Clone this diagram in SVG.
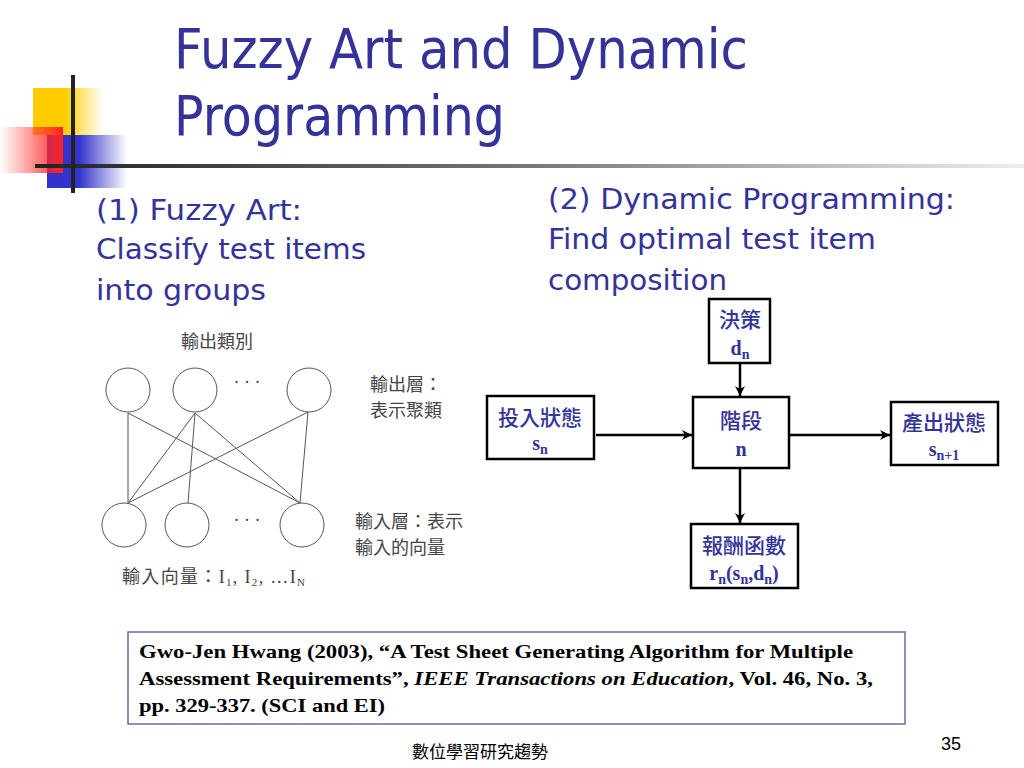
<svg xmlns="http://www.w3.org/2000/svg" width="1024" height="768" viewBox="0 0 1024 768">
<defs>
<linearGradient id="gy" x1="0" y1="0" x2="1" y2="0"><stop offset="0" stop-color="#ffcc00"/><stop offset="0.45" stop-color="#ffcc00"/><stop offset="1" stop-color="#ffcc00" stop-opacity="0"/></linearGradient>
<linearGradient id="gr" x1="0" y1="0" x2="1" y2="0"><stop offset="0" stop-color="#ff3333" stop-opacity="0"/><stop offset="1" stop-color="#ff2222"/></linearGradient>
<linearGradient id="gb" x1="0" y1="0" x2="1" y2="0"><stop offset="0" stop-color="#3333cc"/><stop offset="0.4" stop-color="#3333cc"/><stop offset="1" stop-color="#3333cc" stop-opacity="0"/></linearGradient>
<linearGradient id="gl" x1="0" y1="0" x2="1" y2="0"><stop offset="0" stop-color="#222"/><stop offset="0.5" stop-color="#777"/><stop offset="1" stop-color="#eee"/></linearGradient>
<marker id="arr" viewBox="0 0 10 10" refX="10" refY="5" markerWidth="10" markerHeight="10" markerUnits="userSpaceOnUse" orient="auto"><path d="M0,0 L10,5 L0,10 L3,5 Z" fill="#000"/></marker>
<style>
.t{font-family:"DejaVu Sans","Liberation Sans",sans-serif;fill:#333399}
.cj{font-family:"Liberation Serif","Noto Sans CJK TC",serif;fill:#444;font-size:18px}
.bx{fill:#fff;stroke:#000;stroke-width:2.5}
.bt{font-family:"Liberation Serif","Noto Sans CJK TC",serif;fill:#333399;font-size:20px;font-weight:bold;text-anchor:middle}
.bc{font-family:"Noto Sans CJK TC",sans-serif;fill:#333399;font-size:21px;font-weight:500;text-anchor:middle}
.nd{fill:#fff;stroke:#555;stroke-width:1}
.ln{stroke:#555;stroke-width:1}
.cn{stroke:#000;stroke-width:2.5;fill:none;marker-end:url(#arr)}
.ref{font-family:"Liberation Serif",serif;font-size:19.5px;font-weight:bold;fill:#000}
</style>
</defs>
<rect width="1024" height="768" fill="#fff"/>
<g id="logo">
<rect x="33" y="88" width="70" height="47" fill="url(#gy)"/>
<rect x="47" y="135" width="80" height="53" fill="url(#gb)"/>
<rect x="0" y="127" width="63" height="46" fill="url(#gr)"/>
<rect x="35" y="164" width="989" height="4" fill="url(#gl)"/>
<rect x="71" y="75" width="4" height="118" fill="#222"/>
</g>
<g id="title">
<text class="t" x="174" y="68" font-size="55" textLength="574" lengthAdjust="spacingAndGlyphs">Fuzzy Art and Dynamic</text>
<text class="t" x="174" y="135" font-size="55" textLength="331" lengthAdjust="spacingAndGlyphs">Programming</text>
</g>
<g id="left-caption" class="t" font-size="29">
<text x="96" y="220" textLength="206" lengthAdjust="spacingAndGlyphs">(1) Fuzzy Art:</text>
<text x="96" y="259" textLength="270" lengthAdjust="spacingAndGlyphs">Classify test items</text>
<text x="96" y="300" textLength="170" lengthAdjust="spacingAndGlyphs">into groups</text>
</g>
<g id="right-caption" class="t" font-size="29">
<text x="548" y="209" textLength="407" lengthAdjust="spacingAndGlyphs">(2) Dynamic Programming:</text>
<text x="548" y="249" textLength="328" lengthAdjust="spacingAndGlyphs">Find optimal test item</text>
<text x="548" y="290" textLength="179" lengthAdjust="spacingAndGlyphs">composition</text>
</g>
<g id="fuzzy-art">
<g id="net-lines">
<line class="ln" x1="128" y1="413" x2="128" y2="503"/>
<line class="ln" x1="128" y1="413" x2="300" y2="503"/>
<line class="ln" x1="195" y1="413" x2="128" y2="503"/>
<line class="ln" x1="195" y1="413" x2="188" y2="503"/>
<line class="ln" x1="195" y1="413" x2="300" y2="503"/>
<line class="ln" x1="308" y1="412" x2="128" y2="503"/>
<line class="ln" x1="308" y1="412" x2="300" y2="503"/>
</g>
<g id="out1"><circle class="nd" cx="128" cy="390" r="22"/></g>
<g id="out2"><circle class="nd" cx="195" cy="390" r="22"/></g>
<g id="out3"><circle class="nd" cx="309" cy="390" r="22"/></g>
<g id="in1"><circle class="nd" cx="124" cy="525" r="22"/></g>
<g id="in2"><circle class="nd" cx="187" cy="525" r="22"/></g>
<g id="in3"><circle class="nd" cx="302" cy="525" r="22"/></g>
<text class="cj" x="247" y="388" text-anchor="middle" font-size="14">·  ·  ·</text>
<text class="cj" x="247" y="526" text-anchor="middle" font-size="14">·  ·  ·</text>
<text class="cj" x="217" y="348" text-anchor="middle">輸出類別</text>
<text class="cj" x="370" y="391">輸出層：</text>
<text class="cj" x="370" y="417">表示聚類</text>
<text class="cj" x="355" y="528">輸入層：表示</text>
<text class="cj" x="355" y="554">輸入的向量</text>
<text class="cj" x="122" y="583" textLength="183" lengthAdjust="spacing">輸入向量：I<tspan font-size="11" dy="3">1</tspan><tspan dy="-3">, I</tspan><tspan font-size="11" dy="3">2</tspan><tspan dy="-3">, …I</tspan><tspan font-size="11" dy="3">N</tspan></text>
</g>
<g id="connectors">
<line class="cn" x1="740" y1="363" x2="740" y2="396"/>
<line class="cn" x1="596" y1="435" x2="692" y2="435"/>
<line class="cn" x1="789" y1="435" x2="890" y2="435"/>
<line class="cn" x1="740" y1="468" x2="740" y2="523"/>
</g>
<g id="decision">
<rect class="bx" x="709" y="299" width="61" height="64"/>
<text class="bc" x="740" y="327">決策</text>
<text class="bt" x="740" y="355">d<tspan font-size="14" dy="4">n</tspan></text>
</g>
<g id="input-state">
<rect class="bx" x="487" y="396" width="107" height="63"/>
<text class="bc" x="540" y="425">投入狀態</text>
<text class="bt" x="540" y="450">s<tspan font-size="14" dy="4">n</tspan></text>
</g>
<g id="stage">
<rect class="bx" x="693" y="397" width="96" height="71"/>
<text class="bc" x="741" y="428">階段</text>
<text class="bt" x="741" y="456">n</text>
</g>
<g id="output-state">
<rect class="bx" x="891" y="402" width="107" height="63"/>
<text class="bc" x="944" y="430">產出狀態</text>
<text class="bt" x="944" y="456">s<tspan font-size="14" dy="4">n+1</tspan></text>
</g>
<g id="reward">
<rect class="bx" x="691" y="524" width="107" height="64"/>
<text class="bc" x="744" y="553">報酬函數</text>
<text class="bt" x="744" y="580">r<tspan font-size="14" dy="4">n</tspan><tspan dy="-4">(s</tspan><tspan font-size="14" dy="4">n</tspan><tspan dy="-4">,d</tspan><tspan font-size="14" dy="4">n</tspan><tspan dy="-4">)</tspan></text>
</g>
<g id="reference">
<rect x="128" y="632" width="777" height="92" fill="#fff" stroke="#6a6aa8" stroke-width="1.5"/>
<text class="ref" x="139" y="658" textLength="714" lengthAdjust="spacingAndGlyphs">Gwo-Jen Hwang (2003), “A Test Sheet Generating Algorithm for Multiple</text>
<text class="ref" x="139" y="685" textLength="734" lengthAdjust="spacingAndGlyphs">Assessment Requirements”, <tspan font-style="italic">IEEE Transactions on Education</tspan>, Vol. 46, No. 3,</text>
<text class="ref" x="139" y="712" textLength="246" lengthAdjust="spacingAndGlyphs">pp. 329-337. (SCI and EI)</text>
</g>
<g id="footer">
<text x="480" y="758" text-anchor="middle" font-family="'Noto Sans CJK TC',sans-serif" font-size="17" fill="#000">數位學習研究趨勢</text>
<text x="951" y="750" text-anchor="middle" font-family="'Liberation Sans',Arial,sans-serif" font-size="18" fill="#000">35</text>
</g>
</svg>
